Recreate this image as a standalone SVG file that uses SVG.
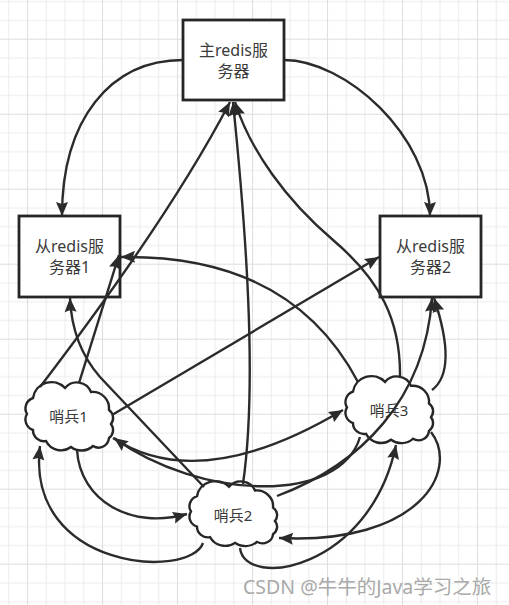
<svg xmlns="http://www.w3.org/2000/svg" width="509" height="605" viewBox="0 0 509 605">
<style>
.box{fill:#fff;stroke:#262626;stroke-width:2.8}
.cloud{fill:#fff;stroke:#262626;stroke-width:2.4}
.lbl{font-family:"Noto Sans","Noto Sans CJK SC",sans-serif;fill:#3a3a3a;text-anchor:middle}
.b{font-size:16px}
.s{font-size:15px}
.edge{fill:none;stroke:#2b2b2b;stroke-width:2.4}
.wm{font-family:"Noto Sans","Noto Sans CJK SC",sans-serif;font-size:19.5px;fill:#a9a9a9}
</style>
<defs>
<pattern id="grid" patternUnits="userSpaceOnUse" x="27.05" y="38.7" width="75" height="75">
<path d="M19.25,0V75M38,0V75M56.75,0V75M0,19.25H75M0,38H75M0,56.75H75" stroke="#ebebeb" stroke-width="1" fill="none"/>
<path d="M0.5,0V75M0,0.5H75" stroke="#dddddd" stroke-width="1" fill="none"/>
</pattern>
<marker id="arr" markerUnits="userSpaceOnUse" viewBox="-15 -7 16 14" refX="0" refY="0" markerWidth="16" markerHeight="14" orient="auto">
<path d="M0,0 L-14,-6 L-12,0 L-14,6 Z" fill="#2b2b2b"/>
</marker>
<path id="cloudShape" d="M9,15 A18.6,18.6 0 0 1 41,5 A15.3,15.3 0 0 1 67,9 A16.5,16.5 0 0 1 85,27 A9.8,9.8 0 0 1 87,41 A9.8,9.8 0 0 1 85,55 A10.5,10.5 0 0 1 69,63 A17.1,17.1 0 0 1 47,64 A16.8,16.8 0 0 1 22,58 A11,11 0 0 1 9,47 A11,11 0 0 1 3,31 A11,11 0 0 1 9,15 Z"/>
</defs>
<rect width="509" height="605" fill="#fff"/>
<rect width="509" height="605" fill="url(#grid)"/>

<g id="master">
<rect class="box" x="183" y="20" width="101" height="80"/>
<text class="lbl b" x="233.5" y="55.5">主redis服</text>
<text class="lbl b" x="233.5" y="76.5">务器</text>
</g>
<g id="slave1">
<rect class="box" x="19" y="216" width="101" height="81"/>
<text class="lbl b" x="69.5" y="251.5">从redis服</text>
<text class="lbl b" x="69.5" y="272.5">务器1</text>
</g>
<g id="slave2">
<rect class="box" x="380" y="216" width="101" height="81"/>
<text class="lbl b" x="430.5" y="251.5">从redis服</text>
<text class="lbl b" x="430.5" y="272.5">务器2</text>
</g>
<g id="sentinel1">
<use href="#cloudShape" class="cloud" transform="translate(24,383)"/>
<text class="lbl s" x="68.5" y="422">哨兵1</text>
</g>
<g id="sentinel3">
<use href="#cloudShape" class="cloud" transform="translate(344,377) scale(1,0.98)"/>
<text class="lbl s" x="389" y="416">哨兵3</text>
</g>
<g id="sentinel2">
<use href="#cloudShape" class="cloud" transform="translate(188,482) scale(1,0.95)"/>
<text class="lbl s" x="233" y="521">哨兵2</text>
</g>

<g id="connectors" class="edge" marker-end="url(#arr)">
<path d="M183,60 C110,60 62,120 62,216"/>
<path d="M284,60 C345,60 430,135 430,216"/>
<path d="M40,387 Q170,217 230,102"/>
<path d="M243,484 C258,380 245,220 233,102"/>
<path d="M400,378 C401,320 380,280 333,240 C286,200 250,150 235,102"/>
<path d="M79,383 L119,255"/>
<path d="M204,487 L100,377 Q72,345 70,298"/>
<path d="M358,382 C320,310 250,255 121,257"/>
<path d="M112,415 L379,257"/>
<path d="M277,496 C360,465 425,400 432,298"/>
<path d="M432,390 C452,375 448,340 434,298"/>
<path d="M77,450 C80,500 130,530 187,514"/>
<path d="M203,543 C190,580 25,570 40,446"/>
<path d="M113,438 Q200,495 343,410"/>
<path d="M360,437 C340,505 200,500 114,438"/>
<path d="M240,548 C245,590 370,570 396,445"/>
<path d="M431,432 C460,470 420,545 279,538"/>
</g>

<text class="wm" x="243" y="594">CSDN @牛牛的Java学习之旅</text>
</svg>
